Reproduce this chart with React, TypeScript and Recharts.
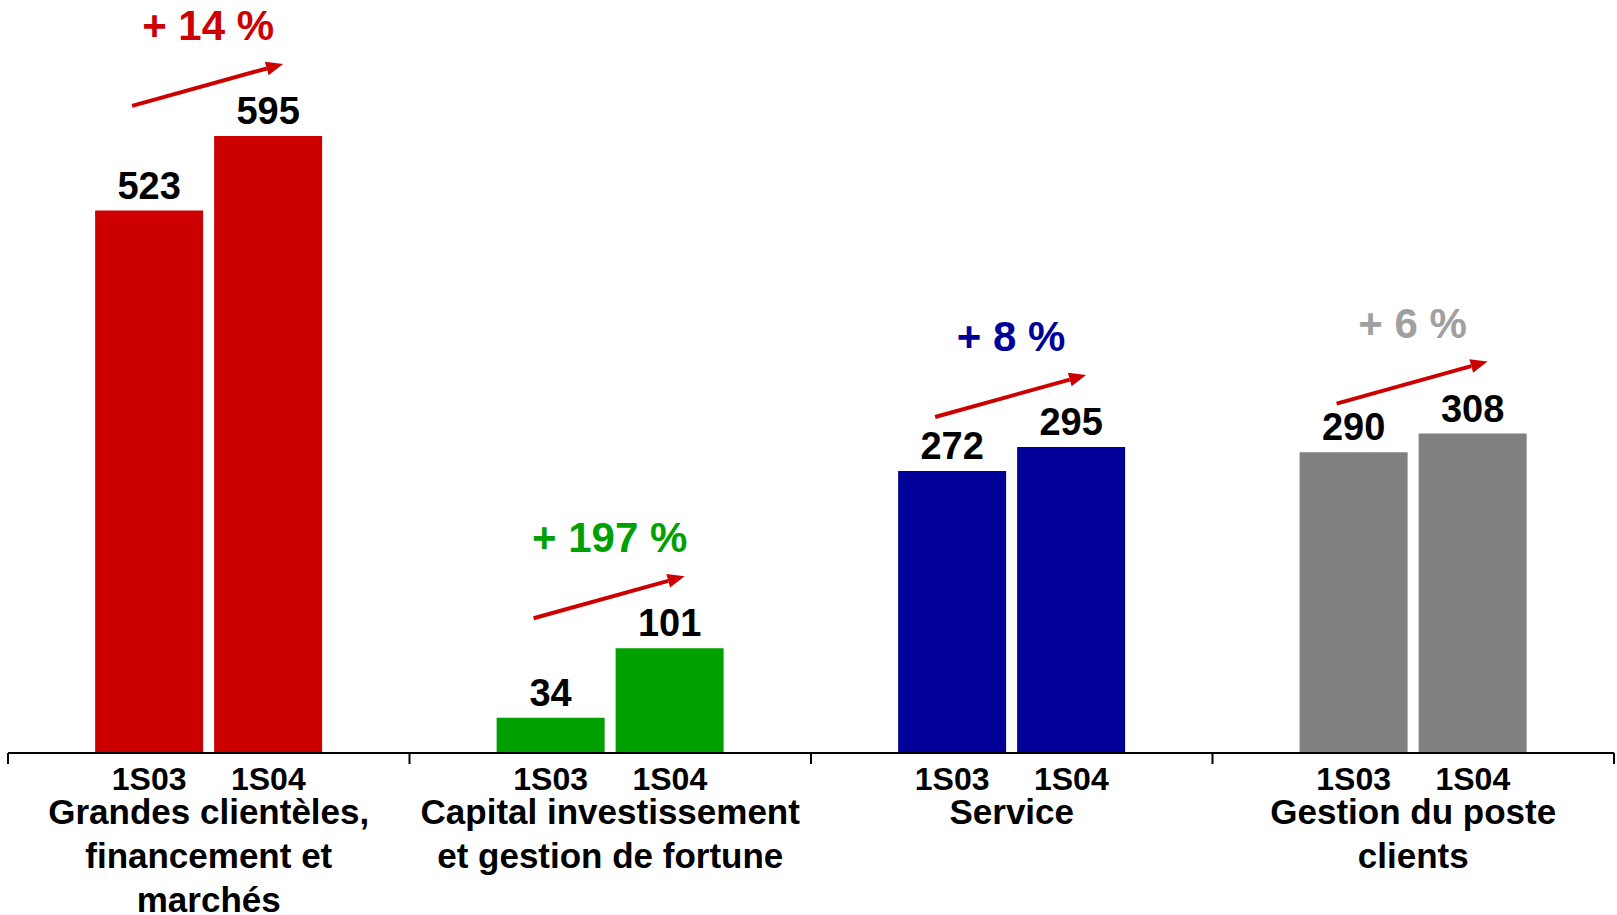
import React from "react";
import { BarChart, Bar, XAxis, YAxis, Cell, LabelList } from "recharts";

// categories (one entry per printed line)
const categoryLines = [
  ["Grandes clientèles,", "financement et", "marchés"],
  ["Capital investissement", "et gestion de fortune"],
  ["Service"],
  ["Gestion du poste", "clients"],
];
const periods = ["1S03", "1S04"];
const values1S03 = [523, 34, 272, 290];
const values1S04 = [595, 101, 295, 308];
const growthLabels = ["+ 14 %", "+ 197 %", "+ 8 %", "+ 6 %"];

const barColors = ["#CC0000", "#00A000", "#000099", "#808080"];
const growthColors = ["#CC0000", "#00A000", "#000099", "#A0A0A0"];
const ARROW = "#CC0000";
const FONT = "'Liberation Sans', Arial, Helvetica, sans-serif";

const W = 1617;
const H = 915;
const MARGIN = { top: 27, right: 3, left: 8, bottom: 12 };
const CATEGORY_GAP = 0.217;
const BAR_GAP = 11;

const data = categoryLines.map((lines, i) => ({
  name: lines.join(" "),
  s03: values1S03[i],
  s04: values1S04[i],
}));

const GroupTick = (props: any) => {
  const { x, y, payload, index, visibleTicksCount } = props;
  const count = visibleTicksCount || categoryLines.length;
  const axisW = props.width || W - MARGIN.left - MARGIN.right;
  const band = axisW / count;
  const barSize = (band * (1 - 2 * CATEGORY_GAP) - BAR_GAP) / 2;
  const shift = (barSize + BAR_GAP) / 2;
  const i = payload && payload.index != null ? payload.index : index;
  const lines = categoryLines[i] || [];
  return (
    <g>
      <line x1={x - band / 2} x2={x - band / 2} y1={y} y2={y + 11} stroke="#000" strokeWidth={2} />
      {i === count - 1 && (
        <line x1={x + band / 2} x2={x + band / 2} y1={y} y2={y + 11} stroke="#000" strokeWidth={2} />
      )}
      {periods.map((p, k) => (
        <text
          key={p}
          x={x + (k === 0 ? -shift : shift)}
          y={y + 37}
          textAnchor="middle"
          fontFamily={FONT}
          fontWeight="bold"
          fontSize={32}
          fill="#000"
        >
          {p}
        </text>
      ))}
      {lines.map((l, k) => (
        <text
          key={k}
          x={x}
          y={y + 71 + k * 44}
          textAnchor="middle"
          fontFamily={FONT}
          fontWeight="bold"
          fontSize={35}
          fill="#000"
        >
          {l}
        </text>
      ))}
    </g>
  );
};

const ValueLabel = (props: any) => {
  const { x, y, width, value } = props;
  return (
    <text
      x={Number(x) + Number(width) / 2}
      y={Number(y) - 12}
      textAnchor="middle"
      fontFamily={FONT}
      fontWeight="bold"
      fontSize={38}
      fill="#000"
    >
      {value}
    </text>
  );
};

// arrow + growth text, anchored on the 1S04 bar
const GrowthLabel = (props: any) => {
  const x = Number(props.x);
  const y = Number(props.y);
  const index = props.index;
  const x1 = x - 82;
  const y1 = y - 30;
  const x2 = x + 69;
  const y2 = y - 72;
  const ang = Math.atan2(y2 - y1, x2 - x1);
  const head = 17;
  const half = 7;
  const bx = x2 - head * Math.cos(ang);
  const by = y2 - head * Math.sin(ang);
  const px = -Math.sin(ang) * half;
  const py = Math.cos(ang) * half;
  return (
    <g>
      <line x1={x1} y1={y1} x2={bx} y2={by} stroke={ARROW} strokeWidth={4} />
      <polygon points={`${x2},${y2} ${bx + px},${by + py} ${bx - px},${by - py}`} fill={ARROW} />
      <text
        x={x - 6}
        y={y - 96}
        textAnchor="middle"
        fontFamily={FONT}
        fontWeight="bold"
        fontSize={42}
        fill={growthColors[index]}
      >
        {growthLabels[index]}
      </text>
    </g>
  );
};

const App = () => {
  return (
    <div style={{ position: "absolute", left: 0, top: 0, width: W, height: H, background: "#fff" }}>
      <BarChart
        width={W}
        height={H}
        data={data}
        margin={MARGIN}
        barCategoryGap={`${CATEGORY_GAP * 100}%`}
        barGap={BAR_GAP}
      >
        <XAxis
          dataKey="name"
          interval={0}
          height={150}
          tickLine={false}
          tickSize={0}
          tickMargin={0}
          axisLine={{ stroke: "#000", strokeWidth: 2 }}
          tick={<GroupTick />}
        />
        <YAxis hide domain={[0, 700]} />
        <Bar dataKey="s03" name="1S03" isAnimationActive={false}>
          {data.map((d, i) => (
            <Cell key={i} fill={barColors[i]} />
          ))}
          <LabelList dataKey="s03" content={<ValueLabel />} />
        </Bar>
        <Bar dataKey="s04" name="1S04" isAnimationActive={false}>
          {data.map((d, i) => (
            <Cell key={i} fill={barColors[i]} />
          ))}
          <LabelList dataKey="s04" content={<ValueLabel />} />
          <LabelList dataKey="s04" content={<GrowthLabel />} />
        </Bar>
      </BarChart>
    </div>
  );
};

export default App;
